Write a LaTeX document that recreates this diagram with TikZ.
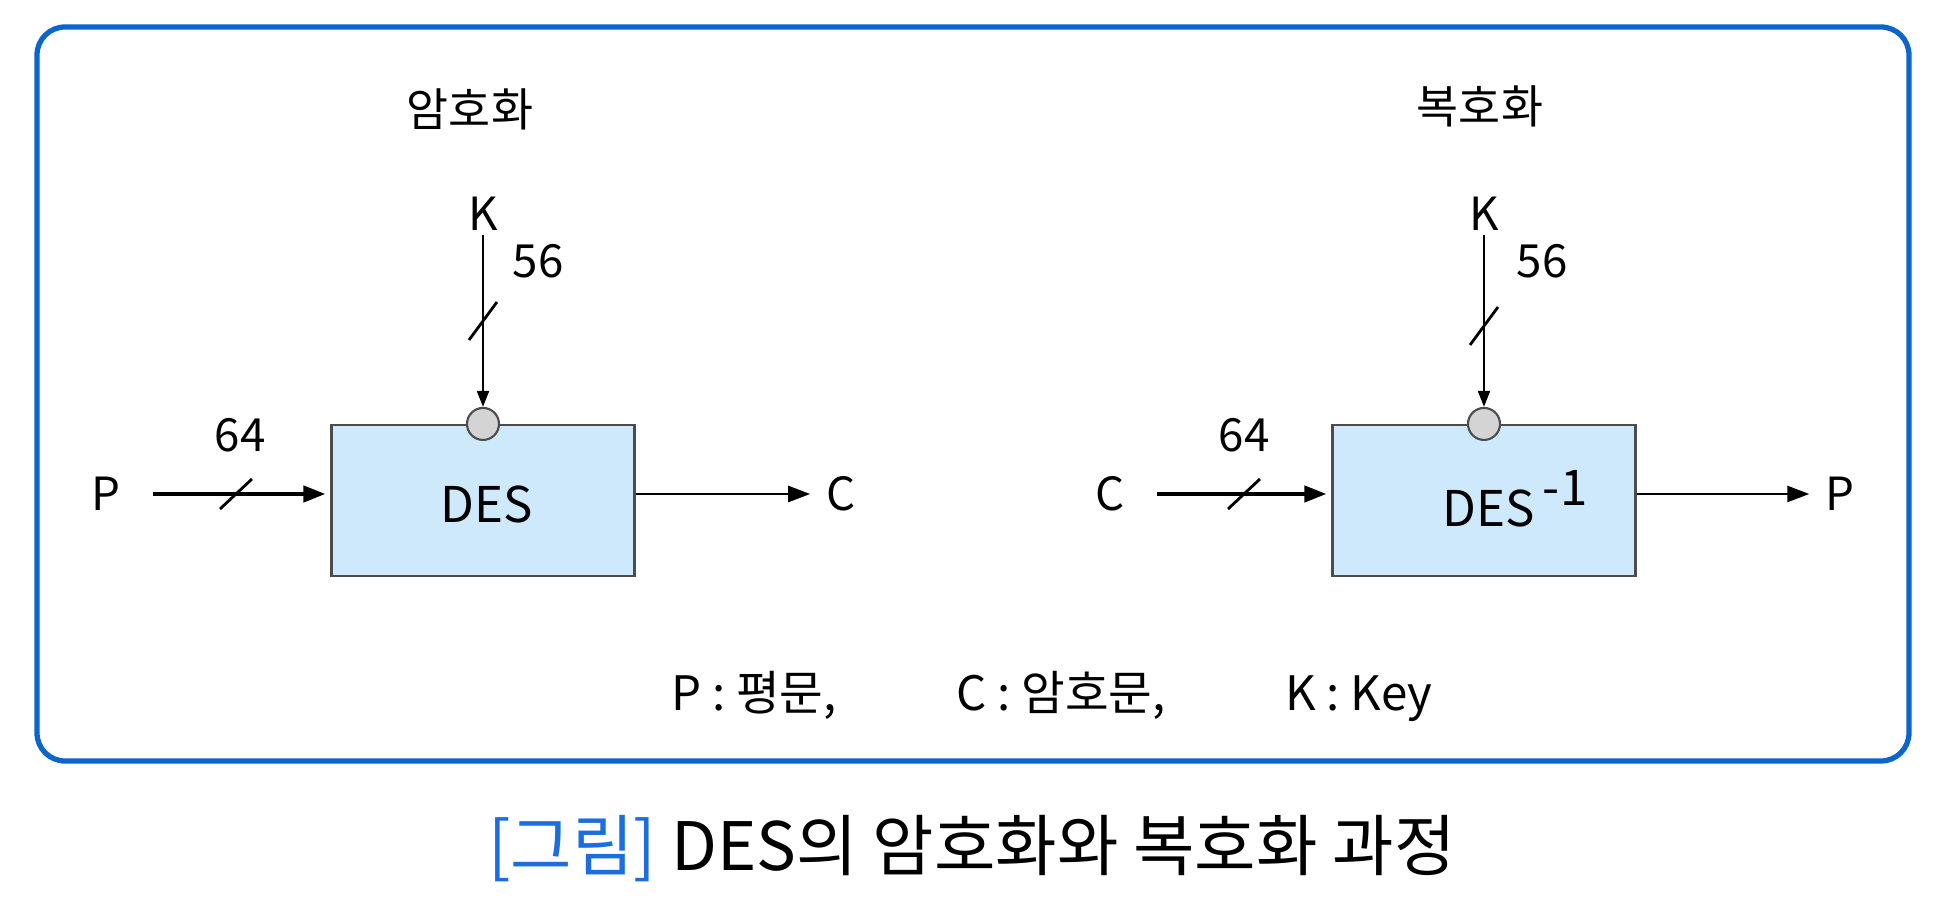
\documentclass[tikz,border=0pt]{standalone}
\usepackage{fontspec}
\setmainfont{Noto Sans CJK KR}
\usetikzlibrary{arrows.meta,positioning}

\definecolor{frameblue}{RGB}{12,100,205}
\definecolor{boxblue}{RGB}{206,233,251}
\definecolor{dotgray}{RGB}{212,212,212}
\definecolor{capblue}{RGB}{28,110,222}

\begin{document}
\begin{tikzpicture}
    \tikzset{block/.style= {draw=black!70, fill=boxblue, rectangle
    , minimum width=3.03cm
    , minimum height=1.51cm
    , line width=0.6pt
    , font=\fontsize{14}{16}\selectfont
      }
    , dot/.style= {draw=black!70, fill=dotgray, circle
    , minimum size=0.32cm, inner sep=0pt, line width=0.6pt
      }
    , lbl/.style= {font=\fontsize{13}{15}\selectfont, inner sep=1pt}
    , feed/.style= {line width=1.2pt, shorten <=0.28cm, shorten >=0.05cm
      , -{Triangle[length=0.22cm,width=0.16cm]}}
    , result/.style= {line width=0.7pt, shorten >=0.12cm
      , -{Triangle[length=0.22cm,width=0.16cm]}}
    , keyline/.style= {line width=0.6pt, -{Triangle[length=0.16cm,width=0.12cm]}}
    , slash/.style= {line width=0.8pt}
    }

\useasboundingbox (0,0) rectangle (19.5,9.09);
\draw[frameblue, line width=1.5pt, rounded corners=0.28cm] (0.37,1.48) rectangle (19.09,8.82);

% encryption
\node [block] (encbox) at (4.83,4.085) {};
\node [lbl, font=\fontsize{14}{16}\selectfont] (encname) at (4.87,4.05) {DES};
\node [dot] (encdot) at (encbox.north) {};
\node [lbl] (encK) at (4.83,6.95) {K};
\node [lbl] (enctitle) at (4.70,8.00) {암호화};
\node [lbl] (encP) at (1.06,4.15) {P};
\node [lbl] (encC) at (8.41,4.15) {C};
\node [lbl] (enck56) at (5.38,6.48) {56};
\node [lbl] (encp64) at (2.40,4.74) {64};

\path[draw, keyline] (encK) -- (encdot);
\path[draw, feed] (encP) -- (encbox.west |- encP);
\path[draw, result] (encbox.east |- encC) -- (encC);
\coordinate (enckbus) at (4.83,5.88);
\coordinate (encpbus) at (2.36,4.15);
\draw[slash] (enckbus) ++(-0.14,-0.19) -- ++(0.28,0.38);
\draw[slash] (encpbus) ++(-0.16,-0.15) -- ++(0.32,0.30);

% decryption
\node [block] (decbox) at (14.84,4.085) {};
\node [lbl, font=\fontsize{14}{16}\selectfont] (decname) at (15.15,4.10) {DES\,\raisebox{0.42em}{-1}};
\node [dot] (decdot) at (decbox.north) {};
\node [lbl] (decK) at (14.84,6.95) {K};
\node [lbl] (dectitle) at (14.80,8.03) {복호화};
\node [lbl] (decC) at (11.10,4.15) {C};
\node [lbl] (decP) at (18.40,4.15) {P};
\node [lbl] (deck56) at (15.42,6.48) {56};
\node [lbl] (decc64) at (12.44,4.74) {64};

\path[draw, keyline] (decK) -- (decdot);
\path[draw, feed] (decC) -- (decbox.west |- decC);
\path[draw, result] (decbox.east |- decP) -- (decP);
\coordinate (deckbus) at (14.84,5.83);
\coordinate (deccbus) at (12.44,4.15);
\draw[slash] (deckbus) ++(-0.14,-0.19) -- ++(0.28,0.38);
\draw[slash] (deccbus) ++(-0.16,-0.15) -- ++(0.32,0.30);

% legend and caption
\node [lbl, font=\fontsize{13.5}{16}\selectfont] (legend) at (10.52,2.13)
  {P : 평문,\hspace{1.2cm}C : 암호문,\hspace{1.2cm}K : Key};
\node [font=\fontsize{19}{22}\selectfont] (caption) at (9.72,0.60)
  {\textcolor{capblue}{[그림]} DES의 암호화와 복호화 과정};
\end{tikzpicture}
\end{document}
